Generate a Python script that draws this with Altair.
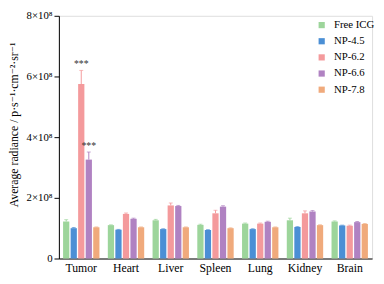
import altair as alt
import pandas as pd

organs = ["Tumor", "Heart", "Liver", "Spleen", "Lung", "Kidney", "Brain"]
groups = ["Free ICG", "NP-4.5", "NP-6.2", "NP-6.6", "NP-7.8"]
colors = ["#9dd59b", "#4b8fd5", "#f49a9c", "#b082c2", "#f0aa7c"]

# values in units of 1e8
free_icg = [1.22, 1.10, 1.26, 1.11, 1.15, 1.26, 1.22]
np45 = [1.00, 0.95, 0.97, 0.94, 0.97, 1.04, 1.09]
np62 = [5.75, 1.47, 1.75, 1.49, 1.15, 1.49, 1.08]
np66 = [3.26, 1.31, 1.73, 1.71, 1.21, 1.55, 1.20]
np78 = [1.03, 1.03, 1.03, 1.00, 1.03, 1.10, 1.14]

err_free = [0.06, 0.01, 0.03, 0.02, 0.02, 0.07, 0.02]
err_45 = [0.02, 0.01, 0.01, 0.01, 0.01, 0.01, 0.01]
err_62 = [0.45, 0.03, 0.08, 0.10, 0.02, 0.08, 0.02]
err_66 = [0.25, 0.02, 0.02, 0.03, 0.02, 0.03, 0.02]
err_78 = [0.01, 0.01, 0.01, 0.01, 0.01, 0.01, 0.01]

sig_organ = ["Tumor", "Tumor"]
sig_group = ["NP-6.2", "NP-6.6"]
sig_text = ["***", "***"]

rows = []
for g, vals, errs in zip(groups, [free_icg, np45, np62, np66, np78],
                         [err_free, err_45, err_62, err_66, err_78]):
    for o, v, e in zip(organs, vals, errs):
        rows.append({"organ": o, "group": g, "value": v, "top": v + e})
df = pd.DataFrame(rows)

pairs = list(zip(sig_organ, sig_group))
sig = df[df.apply(lambda r: (r["organ"], r["group"]) in pairs, axis=1)].copy()
sig["label"] = sig_text

serif = "Liberation Serif, Times New Roman, Times, DejaVu Serif, serif"

x = alt.X("organ:N", sort=organs,
          scale=alt.Scale(paddingInner=0.17, paddingOuter=0.085),
          axis=alt.Axis(title=None, labelAngle=0, ticks=False, labelFont=serif,
                        labelFontSize=12, labelColor="black", domainColor="black",
                        labelPadding=4))
xo = alt.XOffset("group:N", sort=groups,
                 scale=alt.Scale(paddingInner=0.17, paddingOuter=0.05))
cscale = alt.Scale(domain=groups, range=colors)
color = alt.Color("group:N", sort=groups, scale=cscale,
                  legend=alt.Legend(title=None, orient="none", legendX=263, legendY=4,
                                    symbolType="square", symbolSize=40,
                                    symbolStrokeWidth=0, labelFont=serif,
                                    labelFontSize=11, labelColor="black",
                                    rowPadding=4.5, labelOffset=7))

y = alt.Y("value:Q",
          scale=alt.Scale(domain=[0, 8], nice=False),
          axis=alt.Axis(title="Average radiance / p·s⁻¹·cm⁻²·sr⁻¹",
                        titleFont=serif, titleFontSize=12, titleFontWeight="normal",
                        titleColor="black", titleX=-46, titleY=111,
                        titleBaseline="middle",
                        values=[0, 1, 2, 3, 4, 5, 6, 7, 8],
                        labelExpr="datum.value == 0 ? '0' : (datum.value % 2 == 0 ? datum.value + '×10⁸' : '')",
                        labelFont=serif, labelFontSize=11, labelColor="black",
                        grid=False, tickColor="black", tickSize=5,
                        domainColor="black", labelPadding=2))

base = alt.Chart(df)
bars = base.mark_bar().encode(x=x, xOffset=xo, y=y, color=color)
rules = base.mark_rule(strokeWidth=1).encode(
    x=x, xOffset=xo, y="value:Q", y2="top:Q",
    color=alt.Color("group:N", sort=groups, scale=cscale, legend=None))
caps = base.mark_tick(thickness=1, size=4).encode(
    x=x, xOffset=xo, y="top:Q",
    color=alt.Color("group:N", sort=groups, scale=cscale, legend=None))
stars = alt.Chart(sig).mark_text(font=serif, fontSize=10, color="#333333", dy=-6).encode(
    x=x, xOffset=xo, y="top:Q", text="label:N")

chart = alt.layer(bars, rules, caps, stars).properties(
    width=320, height=248,
    autosize=alt.AutoSizeParams(type="none"),
    padding={"left": 52, "top": 5, "right": 4, "bottom": 20},
).configure_view(stroke=None).configure(background="white")

chart.save("out.html", embed_options={"renderer": "svg", "actions": False})
